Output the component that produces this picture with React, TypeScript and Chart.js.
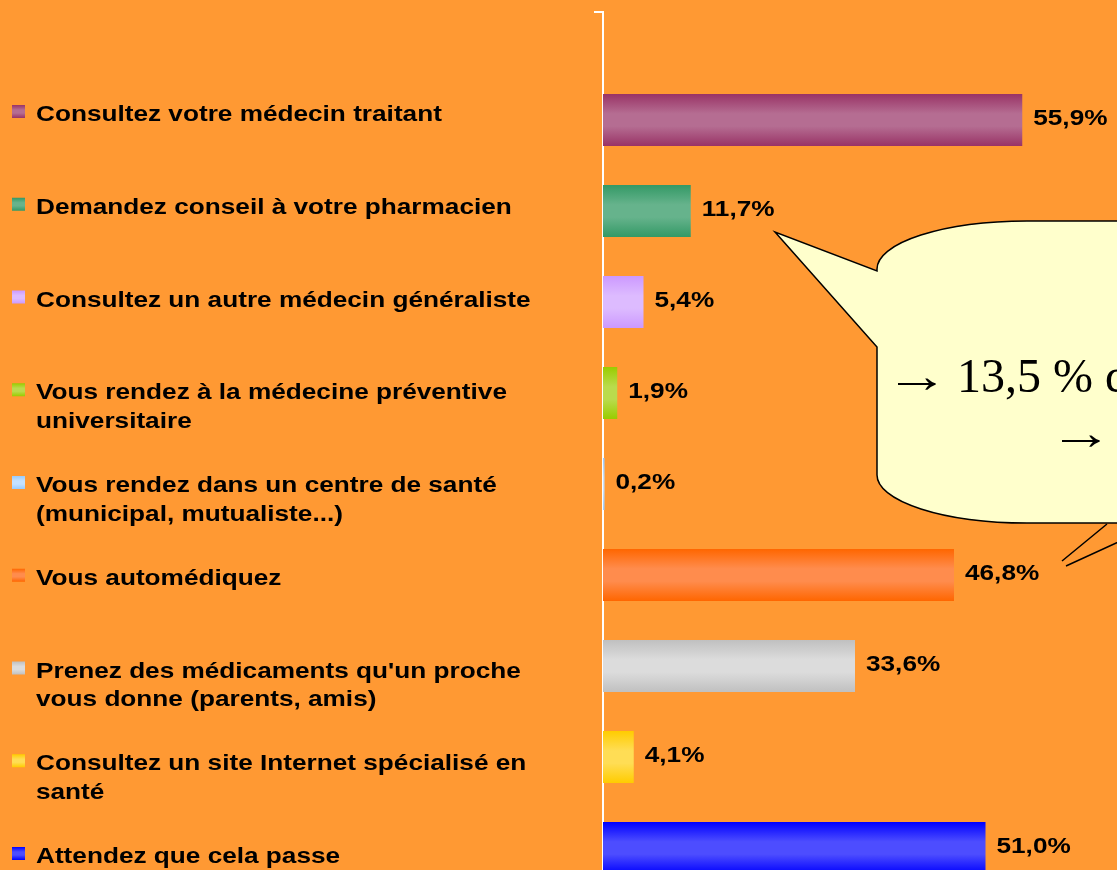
import React, { useEffect, useRef } from "react";
import { Chart, registerables } from "chart.js";

Chart.register(...registerables);

// ---------- data ----------
const categories: string[] = [""];

const seriesNames: string[][] = [
  ["Consultez votre médecin traitant"],
  ["Demandez conseil à votre pharmacien"],
  ["Consultez un autre médecin généraliste"],
  ["Vous rendez à la médecine préventive", "universitaire"],
  ["Vous rendez dans un centre de santé", "(municipal, mutualiste...)"],
  ["Vous automédiquez"],
  ["Prenez des médicaments qu'un proche", "vous donne (parents, amis)"],
  ["Consultez un site Internet spécialisé en", "santé"],
  ["Attendez que cela passe"],
];

const seriesValues: number[] = [55.9, 11.7, 5.4, 1.9, 0.2, 46.8, 33.6, 4.1, 51.0];

const edgeColors: string[] = [
  "#993366", "#339966", "#CC99FF", "#99CC00", "#99CCFF",
  "#FF6600", "#C0C0C0", "#FFCC00", "#0000FF",
];
const midColors: string[] = [
  "#B56D92", "#66B38C", "#DDBBFF", "#BADB4D", "#C4E1FF",
  "#FF8C4D", "#DCDCDC", "#FFDD55", "#4D4DFF",
];

const calloutArrow = "→";
const calloutText = "13,5 % d";

const axisMax = 60;

// ---------- helpers ----------
const fmt = (v: number) => v.toFixed(1).replace(".", ",") + "%";
const SX = 1.19; // horizontal stretch of the chart's text

function vGrad(ctx: CanvasRenderingContext2D, top: number, bot: number, edge: string, mid: string) {
  const g = ctx.createLinearGradient(0, top, 0, bot);
  g.addColorStop(0, edge);
  g.addColorStop(0.38, mid);
  g.addColorStop(0.62, mid);
  g.addColorStop(1, edge);
  return g;
}

function stretchedText(ctx: CanvasRenderingContext2D, t: string, x: number, y: number, sx: number) {
  ctx.save();
  ctx.translate(x, y);
  ctx.scale(sx, 1);
  ctx.fillText(t, 0, 0);
  ctx.restore();
}

const decorPlugin = {
  id: "decor",
  beforeDatasetsDraw(chart: any) {
    const ctx = chart.ctx;
    chart.data.datasets.forEach((_ds: any, i: number) => {
      const meta = chart.getDatasetMeta(i);
      meta.data.forEach((el: any) => {
        const top = el.y - el.height / 2;
        const bot = el.y + el.height / 2;
        el.options.backgroundColor = vGrad(ctx, top, bot, edgeColors[i], midColors[i]);
      });
    });
  },
  afterDraw(chart: any) {
    const ctx: CanvasRenderingContext2D = chart.ctx;
    ctx.save();

    // value labels
    ctx.fillStyle = "#000";
    ctx.font = "bold 22px 'Liberation Sans', Arial, sans-serif";
    ctx.textBaseline = "middle";
    ctx.textAlign = "left";
    chart.data.datasets.forEach((ds: any, i: number) => {
      const meta = chart.getDatasetMeta(i);
      meta.data.forEach((el: any, j: number) => {
        stretchedText(ctx, fmt(ds.data[j]), el.x + 11, el.y - 1, SX);
      });
    });

    // legend
    ctx.textBaseline = "alphabetic";
    seriesNames.forEach((lines, i) => {
      const base = 121 + 92.75 * i;
      const sy = base - 16;
      ctx.fillStyle = vGrad(ctx, sy, sy + 13, edgeColors[i], midColors[i]);
      ctx.fillRect(12, sy, 13, 13);
      ctx.fillStyle = "#000";
      lines.forEach((t, k) => stretchedText(ctx, t, 36, base + 28.5 * k, SX));
    });

    // callout bubble
    ctx.beginPath();
    ctx.moveTo(775, 232);
    ctx.lineTo(877, 347);
    ctx.lineTo(877, 475);
    ctx.ellipse(1027, 475, 150, 48, 0, Math.PI, Math.PI / 2, true);
    ctx.lineTo(1500, 523);
    ctx.lineTo(1500, 221);
    ctx.lineTo(1027, 221);
    ctx.ellipse(1027, 269, 150, 48, 0, (3 * Math.PI) / 2, Math.PI, true);
    ctx.lineTo(877, 271);
    ctx.closePath();
    ctx.fillStyle = "#FFFFCC";
    ctx.fill();
    ctx.lineWidth = 1.5;
    ctx.strokeStyle = "#000";
    ctx.stroke();

    // second pointer lines
    ctx.beginPath();
    ctx.moveTo(1107, 524);
    ctx.lineTo(1062, 561);
    ctx.moveTo(1066, 566);
    ctx.lineTo(1125, 539);
    ctx.stroke();

    ctx.fillStyle = "#000";
    ctx.font = "48px 'Liberation Serif', 'Times New Roman', serif";
    stretchedText(ctx, calloutArrow, 885, 392, 1.33);
    ctx.fillText(calloutText, 957, 392);
    stretchedText(ctx, calloutArrow, 1049, 449, 1.33);

    ctx.restore();
  },
};

export default function App() {
  const ref = useRef<HTMLCanvasElement | null>(null);

  useEffect(() => {
    if (!ref.current) return;
    const chart = new Chart(ref.current, {
      type: "bar",
      data: {
        labels: categories,
        datasets: seriesValues.map((v, i) => ({
          label: seriesNames[i].join(" "),
          data: [v],
          backgroundColor: edgeColors[i],
          borderWidth: 0,
          barPercentage: 0.571,
          categoryPercentage: 0.8676,
        })),
      },
      options: {
        indexAxis: "y",
        responsive: false,
        maintainAspectRatio: false,
        animation: false,
        events: [],
        layout: { padding: { left: 594, top: 12, right: 64, bottom: 14 } },
        scales: {
          x: { type: "linear", min: 0, max: axisMax, display: false },
          y: {
            type: "category",
            display: true,
            z: 1,
            ticks: { display: false },
            grid: {
              display: true,
              drawOnChartArea: false,
              drawTicks: true,
              tickLength: 9,
              color: "#FFFFFF",
              lineWidth: 2,
              offset: true,
            },
            border: { display: true, color: "#FFFFFF", width: 2 },
          },
        },
        plugins: {
          legend: { display: false },
          tooltip: { enabled: false },
        },
      },
      plugins: [decorPlugin],
    } as any);
    return () => chart.destroy();
  }, []);

  return (
    <div
      style={{
        position: "fixed",
        left: 0,
        top: 0,
        width: 1117,
        height: 870,
        overflow: "hidden",
        background: "#FF9933",
      }}
    >
      <canvas ref={ref} width={1117} height={970} style={{ display: "block" }} />
    </div>
  );
}
